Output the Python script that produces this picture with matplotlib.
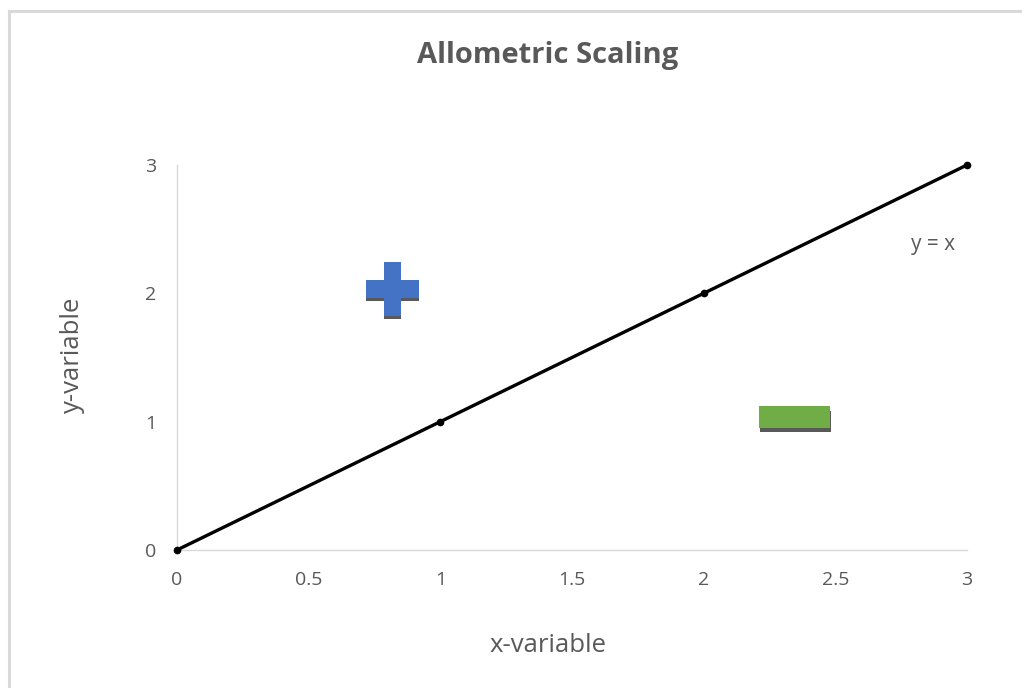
import numpy as np
import matplotlib.pyplot as plt
from matplotlib.patches import Rectangle
from matplotlib.lines import Line2D

# ---- data ----
line_x = [0, 1, 2, 3]
line_y = [0, 1, 2, 3]
x_ticks = [0, 0.5, 1, 1.5, 2, 2.5, 3]
y_ticks = [0, 1, 2, 3]
plus_center = (0.818, 2.033)
minus_center = (2.345, 1.036)
line_label = "y = x"
line_label_pos = (2.87, 2.38)

TEXT = "#595959"
GRID = "#d9d9d9"
BLUE = "#4472C4"
GREEN = "#70AD47"
SHADOW = "#595959"

plt.rcParams["font.family"] = ["Open Sans", "DejaVu Sans"]

fig = plt.figure(figsize=(10.22, 6.88), dpi=100)
ax = fig.add_axes([0.1732, 0.2006, 0.9462 - 0.1732, 0.7602 - 0.2006])

# chart-area frame: only the top and left edges fall inside the image
fx, fy = 9 / 1022, 1 - 11 / 688
fig.add_artist(Line2D([fx, 1.0], [fy, fy], transform=fig.transFigure,
                      color=GRID, linewidth=2.2))
fig.add_artist(Line2D([fx, fx], [0.0, fy], transform=fig.transFigure,
                      color=GRID, linewidth=2.2))

ax.plot(line_x, line_y, color="black", linewidth=2.4, marker="o",
        markersize=4.5, zorder=3, clip_on=False)
ax.text(*line_label_pos, line_label, color=TEXT, fontsize=15,
        ha="center", va="center")

# plus sign: shadows first, then both arms
px, py = plus_center
ax.add_patch(Rectangle((px - 0.1005, py - 0.066 - 0.028), 0.201, 0.133,
                       facecolor=SHADOW, edgecolor="none", zorder=4))
ax.add_patch(Rectangle((px - 0.0325, py - 0.21 - 0.022), 0.065, 0.421,
                       facecolor=SHADOW, edgecolor="none", zorder=4))
ax.add_patch(Rectangle((px - 0.1005, py - 0.066), 0.201, 0.133,
                       facecolor=BLUE, edgecolor="none", zorder=5))
ax.add_patch(Rectangle((px - 0.0325, py - 0.21), 0.065, 0.421,
                       facecolor=BLUE, edgecolor="none", zorder=5))

# minus sign with drop shadow
mx, my = minus_center
ax.add_patch(Rectangle((mx - 0.135 + 0.004, my - 0.0855 - 0.035), 0.27, 0.171,
                       facecolor=SHADOW, edgecolor="none", zorder=4))
ax.add_patch(Rectangle((mx - 0.135, my - 0.0855), 0.27, 0.171,
                       facecolor=GREEN, edgecolor="none", zorder=5))

ax.set_xlim(0, 3)
ax.set_ylim(0, 3)
ax.set_xticks(x_ticks)
ax.set_xticklabels([f"{v:g}" for v in x_ticks])
ax.set_yticks(y_ticks)
ax.tick_params(axis="x", length=0, pad=15, labelsize=14, labelcolor=TEXT)
ax.tick_params(axis="y", length=0, pad=15, labelsize=14, labelcolor=TEXT)
for s in ("top", "right"):
    ax.spines[s].set_visible(False)
for s in ("left", "bottom"):
    ax.spines[s].set_color(GRID)
    ax.spines[s].set_linewidth(1)

fig.text(548 / 1022, 1 - 55 / 688, "Allometric Scaling", fontsize=21,
         fontweight="bold", color=TEXT, ha="center", va="center")
fig.text(548 / 1022, 1 - 645 / 688, "x-variable", fontsize=18.5,
         color=TEXT, ha="center", va="center")
fig.text(72 / 1022, 1 - 355 / 688, "y-variable", fontsize=18.5,
         color=TEXT, ha="center", va="center", rotation=90)

fig.savefig("out.png", dpi=100)
